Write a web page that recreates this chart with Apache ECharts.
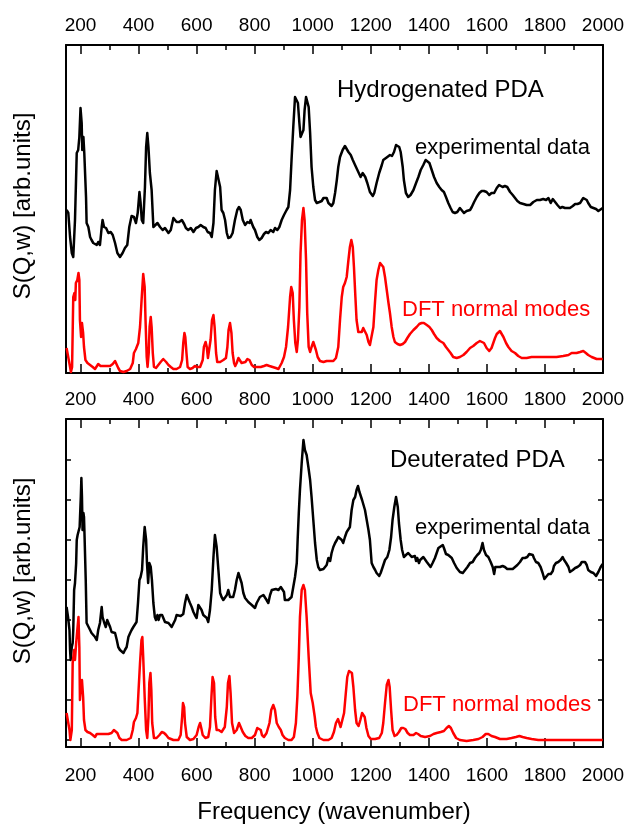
<!DOCTYPE html>
<html>
<head>
<meta charset="utf-8">
<title>PDA INS spectra</title>
<script src="https://cdn.jsdelivr.net/npm/echarts@6/dist/echarts.min.js"></script>
<style>
  html, body { margin: 0; padding: 0; background: #fff; }
  #chart { width: 628px; height: 826px; }
</style>
</head>
<body>
<div id="chart"></div>
<script>
// frequency axis (wavenumber) and tick positions
var freqMin = 150, freqMax = 2000;
var majorTicks = [200, 400, 600, 800, 1000, 1200, 1400, 1600, 1800, 2000];
var minorTicks = [300, 500, 700, 900, 1100, 1300, 1500, 1700, 1900];
var lowerYTicks = [7, 47, 87, 127, 167, 207, 247, 287];

// [wavenumber, intensity (arb. units)]
var hydExp = [
  [152,163],[158,160],[164,136],[170,120],[175,116],[181,153],[187,220],[192,223],[196,236],[200,265],[204,250],[206,223],[210,236],[213,220],[219,176],[221,150],[227,146],[233,136],[238,133],[244,130],[250,131],[256,128],[261,131],[267,128],[273,146],[276,153],[281,146],[288,145],[296,140],[304,141],[311,138],[319,130],[327,120],[336,116],[345,120],[353,125],[361,128],[368,146],[376,157],[384,156],[391,150],[397,160],[403,181],[407,170],[411,153],[416,150],[422,186],[426,226],[430,240],[434,226],[439,200],[445,183],[451,146],[457,145],[465,150],[474,146],[483,143],[491,145],[497,146],[503,140],[511,143],[520,155],[526,153],[531,151],[540,151],[549,153],[557,149],[563,145],[571,143],[580,145],[589,141],[598,145],[606,146],[614,148],[623,146],[631,145],[638,141],[646,140],[652,136],[658,150],[663,183],[669,202],[675,200],[681,186],[686,163],[692,160],[698,153],[704,140],[709,135],[717,136],[724,140],[732,153],[740,163],[746,166],[752,163],[759,153],[767,148],[775,151],[782,150],[786,153],[795,146],[801,143],[809,136],[816,133],[824,135],[832,139],[839,141],[847,140],[855,143],[864,141],[870,145],[878,143],[885,146],[893,153],[901,158],[910,163],[916,166],[922,183],[927,213],[933,246],[939,276],[945,278],[949,270],[954,250],[958,236],[963,234],[968,243],[972,263],[977,276],[981,278],[986,266],[991,240],[996,206],[1002,186],[1008,173],[1014,170],[1023,171],[1031,172],[1037,175],[1042,176],[1048,175],[1054,170],[1060,168],[1065,167],[1071,170],
  [1077,180],[1083,193],[1088,206],[1094,216],[1103,223],[1111,227],[1117,225],[1123,221],[1131,218],[1138,213],[1142,213],[1149,206],[1157,201],[1165,196],[1172,200],[1177,200],[1181,196],[1188,190],[1197,181],[1207,177],[1212,180],[1220,190],[1229,200],[1238,208],[1243,213],[1249,215],[1257,216],[1266,218],[1273,217],[1280,221],[1287,228],[1293,230],[1298,226],[1303,221],[1310,206],[1314,193],[1321,180],[1329,176],[1337,178],[1347,183],[1356,190],[1364,196],[1372,203],[1381,208],[1389,213],[1395,213],[1402,210],[1410,203],[1418,196],[1427,190],[1436,186],[1444,183],[1452,181],[1459,176],[1467,170],[1475,165],[1482,161],[1490,160],[1498,161],[1507,165],[1513,163],[1521,160],[1530,162],[1536,160],[1542,163],[1548,166],[1556,171],[1565,176],[1574,180],[1582,182],[1590,182],[1599,181],[1608,178],[1616,180],[1625,180],[1634,185],[1642,188],[1647,187],[1654,186],[1662,187],[1670,186],[1680,181],[1689,178],[1697,175],[1705,172],[1714,170],[1726,169],[1737,168],[1749,168],[1760,171],[1772,173],[1783,173],[1794,174],[1804,173],[1812,175],[1820,170],[1827,174],[1835,171],[1843,168],[1852,165],[1860,166],[1869,165],[1877,165],[1886,165],[1896,167],[1904,169],[1912,169],[1921,170],[1927,172],[1932,175],[1938,176],[1944,173],[1949,170],[1958,166],[1967,165],[1976,164],[1984,162],[1990,162],[1999,165]
];

var hydDft = [
  [152,25],[158,26],[164,6],[167,1],[171,6],[175,76],[179,80],[182,73],[184,90],[189,93],[193,100],[196,93],[198,53],[202,36],[205,50],[209,40],[212,26],[217,13],[224,10],[233,8],[242,6],[250,4],[256,6],[261,9],[269,7],[279,7],[290,7],[302,7],[311,9],[319,12],[325,10],[330,5],[336,2],[348,1],[359,2],[371,4],[380,10],[384,20],[391,24],[399,30],[405,46],[411,76],[416,99],[421,86],[424,53],[428,16],[431,6],[435,20],[438,46],[442,56],[445,46],[449,20],[453,6],[460,5],[468,8],[476,11],[485,14],[495,11],[503,8],[511,6],[520,4],[531,4],[543,6],[550,13],[554,30],[558,40],[561,36],[565,20],[569,6],[577,4],[586,5],[594,7],[602,6],[612,6],[621,13],[625,26],[631,31],[635,26],[639,15],[644,16],[648,33],[653,53],[658,58],[662,46],[667,20],[671,11],[681,11],[692,13],[701,15],[706,26],[710,43],[715,50],[720,40],[724,20],[729,10],[733,7],[738,10],[744,15],[749,16],[755,10],[761,8],[768,11],[775,14],[782,13],[790,8],[798,6],[809,6],[821,6],[832,7],[841,8],[851,7],[862,6],[873,5],[882,4],[887,6],[893,10],[901,16],[908,26],[915,46],[922,76],[926,86],[931,80],[935,53],[940,30],[945,21],[949,33],[954,66],[958,120],[963,153],[968,165],[972,153],[977,113],[981,60],[986,26],[991,21],[996,26],[1002,31],[1007,30],[1011,23],[1017,16],[1025,12],[1037,11],[1048,12],[1060,12],[1071,12],
  [1080,15],[1088,26],[1094,53],[1100,76],[1105,86],[1111,90],[1117,96],[1123,113],[1128,126],[1133,133],[1138,126],[1142,106],[1147,76],[1151,53],[1157,41],[1163,40],[1169,41],[1174,45],[1180,43],[1186,38],[1192,31],[1197,28],[1203,30],[1209,46],[1215,73],[1220,93],[1226,103],[1232,110],[1238,111],[1243,106],[1249,96],[1255,83],[1261,70],[1266,60],[1272,46],[1278,36],[1283,31],[1292,29],[1301,28],[1310,29],[1318,31],[1326,35],[1335,39],[1347,43],[1358,46],[1367,49],[1375,50],[1383,50],[1393,48],[1402,46],[1410,43],[1418,39],[1427,35],[1438,32],[1450,30],[1459,26],[1467,23],[1475,20],[1484,16],[1496,15],[1507,16],[1519,18],[1530,21],[1542,25],[1553,27],[1565,30],[1576,32],[1582,33],[1590,30],[1599,25],[1608,22],[1616,25],[1622,30],[1628,35],[1634,39],[1639,41],[1645,42],[1651,41],[1657,36],[1666,30],[1674,26],[1685,22],[1697,20],[1708,17],[1720,15],[1737,15],[1754,16],[1772,16],[1794,16],[1817,16],[1840,16],[1863,17],[1881,18],[1892,20],[1909,20],[1921,21],[1932,22],[1941,20],[1949,18],[1961,16],[1978,14],[1999,14]
];

var deuExp = [
  [152,140],[157,130],[162,117],[164,97],[166,87],[170,100],[173,104],[175,117],[178,157],[181,164],[185,184],[187,207],[190,212],[194,210],[197,220],[201,250],[203,269],[205,250],[207,217],[210,234],[212,230],[214,210],[218,167],[221,124],[227,124],[233,117],[238,114],[244,114],[250,110],[256,107],[261,117],[267,124],[273,140],[276,130],[281,125],[287,120],[292,127],[297,129],[302,120],[307,115],[313,117],[319,114],[325,107],[330,100],[336,97],[342,95],[348,94],[353,97],[359,100],[365,110],[371,114],[376,117],[382,120],[388,122],[393,125],[398,144],[403,167],[407,170],[412,177],[416,200],[421,220],[426,207],[429,184],[433,164],[437,184],[442,180],[446,167],[451,144],[456,130],[460,127],[465,132],[469,127],[474,132],[481,132],[485,130],[491,125],[497,124],[503,124],[508,122],[514,120],[520,119],[526,127],[531,132],[537,130],[545,131],[554,133],[560,144],[566,152],[571,150],[577,144],[583,140],[589,135],[594,132],[600,129],[606,142],[612,142],[617,137],[623,132],[629,134],[635,129],[640,125],[646,137],[652,157],[658,190],[663,212],[669,200],[675,177],[681,154],[686,150],[692,147],[698,145],[704,152],[709,157],[715,150],[721,149],[726,150],[732,157],[738,167],[744,174],[749,172],[755,164],[761,154],[767,149],[772,147],[778,145],[784,144],[790,142],[795,140],[801,139],[807,144],[813,142],[818,150],[824,150],[830,152],[836,150],[841,147],[847,144],[853,152],[859,157],[864,157],[873,158],[882,157],[890,160],[896,160],[901,155],[904,147],[910,149],[916,147],[922,149],[927,150],[933,160],[939,170],[945,184],[948,207],[952,234],[956,257],[962,284],[968,307],[973,297],[979,292],[985,280],[991,267],[996,250],[1002,227],[1008,204],[1014,187],[1019,180],[1025,177],[1031,177],[1037,178],[1042,177],[1048,182],[1054,189],[1060,186],[1065,194],[1071,200],
  [1077,204],[1083,207],[1088,210],[1094,209],[1100,207],[1105,204],[1111,210],[1117,215],[1123,217],[1128,220],[1134,237],[1140,247],[1146,250],[1151,257],[1156,261],[1161,255],[1165,254],[1170,247],[1174,245],[1180,237],[1186,227],[1192,217],[1197,207],[1203,184],[1209,180],[1215,177],[1220,174],[1229,171],[1234,174],[1241,180],[1249,187],[1257,190],[1264,197],[1270,210],[1275,227],[1281,240],[1287,250],[1293,240],[1297,224],[1303,207],[1308,197],[1314,190],[1321,192],[1329,194],[1335,192],[1341,190],[1347,189],[1352,191],[1356,186],[1360,189],[1366,184],[1370,187],[1375,186],[1381,190],[1387,192],[1393,185],[1398,184],[1406,180],[1413,184],[1421,189],[1427,194],[1433,199],[1438,201],[1448,202],[1452,199],[1459,193],[1467,192],[1473,190],[1479,189],[1487,184],[1496,179],[1507,175],[1517,174],[1525,177],[1533,180],[1542,184],[1551,185],[1559,189],[1567,192],[1574,194],[1579,197],[1585,204],[1590,197],[1597,192],[1605,190],[1613,185],[1620,180],[1625,173],[1629,180],[1636,180],[1645,180],[1654,181],[1662,180],[1670,178],[1680,178],[1689,178],[1697,180],[1705,182],[1714,185],[1723,189],[1731,189],[1739,190],[1746,193],[1752,195],[1758,192],[1762,189],[1769,185],[1777,184],[1785,180],[1792,174],[1798,168],[1804,170],[1812,173],[1820,173],[1827,176],[1831,181],[1838,184],[1846,185],[1854,187],[1861,190],[1866,187],[1873,184],[1881,180],[1886,175],[1896,177],[1904,179],[1912,180],[1921,182],[1927,185],[1932,187],[1938,185],[1944,182],[1949,177],[1958,175],[1967,174],[1976,171],[1984,175],[1992,180],[1999,183]
];

var deuDft = [
  [152,34],[157,32],[162,17],[165,7],[170,17],[173,84],[178,97],[181,87],[185,104],[189,117],[193,130],[196,100],[198,47],[202,64],[205,67],[209,50],[212,27],[217,17],[224,15],[233,14],[242,12],[250,10],[256,13],[265,13],[279,13],[296,13],[307,14],[315,17],[321,19],[327,14],[334,9],[342,7],[359,7],[373,9],[380,17],[384,25],[391,29],[396,34],[400,57],[405,84],[410,107],[413,110],[416,90],[421,50],[426,17],[430,9],[434,30],[437,64],[441,74],[444,57],[447,24],[453,9],[462,9],[472,12],[480,15],[488,14],[495,12],[503,9],[520,7],[537,7],[545,12],[550,30],[553,44],[557,40],[560,24],[566,10],[577,7],[589,8],[600,12],[607,20],[612,24],[616,19],[621,12],[630,9],[640,10],[646,20],[651,50],[655,70],[660,64],[664,30],[669,17],[676,17],[686,15],[697,20],[704,40],[708,64],[713,71],[717,54],[722,24],[729,14],[738,17],[746,24],[752,22],[759,15],[768,11],[778,9],[790,9],[801,12],[809,19],[815,20],[821,17],[825,12],[832,10],[841,14],[851,24],[857,37],[864,42],[870,37],[876,24],[883,20],[890,17],[896,12],[904,9],[916,7],[927,7],[935,10],[942,24],[947,50],[952,90],[956,130],[962,157],[968,162],[973,157],[979,130],[986,90],[993,54],[1000,44],[1007,30],[1011,20],[1016,14],[1023,9],[1037,7],[1054,7],[1065,9],[1073,15],[1080,24],[1087,28],
  [1096,20],[1102,22],[1108,34],[1114,54],[1119,70],[1125,76],[1131,77],[1135,74],[1140,60],[1146,37],[1151,24],[1158,21],[1164,27],[1170,34],[1174,36],[1179,30],[1185,19],[1192,11],[1200,8],[1215,8],[1229,9],[1238,14],[1243,24],[1249,44],[1255,62],[1261,67],[1265,60],[1270,37],[1275,17],[1282,11],[1289,12],[1297,15],[1305,19],[1312,19],[1319,18],[1327,14],[1335,12],[1347,12],[1356,14],[1363,13],[1372,11],[1387,10],[1404,11],[1416,13],[1427,14],[1441,15],[1452,16],[1461,19],[1469,21],[1476,19],[1484,14],[1494,9],[1507,7],[1530,6],[1553,7],[1571,8],[1585,10],[1596,13],[1605,13],[1616,11],[1628,10],[1645,8],[1668,8],[1685,9],[1700,10],[1712,11],[1723,10],[1737,9],[1754,8],[1777,7],[1817,7],[1886,7],[1955,7],[1999,7]
];

var FONT = '"Liberation Sans", Arial, sans-serif';

function freqAxis(grid, pos, ticks, len, labelMargin, showLine) {
    return {
        type: 'value',
        gridIndex: grid,
        position: pos,
        min: freqMin,
        max: freqMax,
        axisLine: { show: showLine, onZero: false, lineStyle: { color: '#000', width: 2 } },
        axisTick: { show: true, inside: true, length: len, customValues: ticks,
                    lineStyle: { color: '#000', width: 1.5 } },
        axisLabel: labelMargin == null ? { show: false } : {
            show: true, customValues: ticks, margin: labelMargin,
            color: '#000', fontSize: 19, fontFamily: FONT,
            formatter: function (v) { return String(v); }
        },
        splitLine: { show: false }
    };
}

function intensityAxis(grid, pos, ticks) {
    return {
        type: 'value',
        gridIndex: grid,
        position: pos,
        min: 0,
        max: 328,
        axisLine: { show: true, onZero: false, lineStyle: { color: '#000', width: 2 } },
        axisTick: ticks ? { show: true, inside: true, length: 5, customValues: ticks,
                            lineStyle: { color: '#000', width: 1.5 } } : { show: false },
        axisLabel: { show: false },
        splitLine: { show: false }
    };
}

function label(text, x, y, size, color, extra) {
    var el = {
        type: 'text', x: x, y: y,
        style: {
            text: text, fill: color || '#000',
            font: size + 'px ' + FONT,
            align: 'left', textAlign: 'left',
            verticalAlign: 'middle', textVerticalAlign: 'middle'
        }
    };
    if (extra) {
        for (var k in extra) { el[k] = extra[k]; }
        el.style.align = el.style.textAlign = 'center';
    }
    return el;
}

function lineSeries(name, data, xi, yi, color) {
    return {
        name: name, type: 'line', data: data,
        xAxisIndex: xi, yAxisIndex: yi,
        showSymbol: false, symbol: 'none',
        lineStyle: { color: color, width: 2.5, join: 'round' },
        clip: true
    };
}

var chart = echarts.init(document.getElementById('chart'), null, { renderer: 'canvas' });

chart.setOption({
    animation: false,
    backgroundColor: '#fff',
    grid: [
        { left: 66, right: 25, top: 45, height: 328 },
        { left: 66, right: 25, top: 419, height: 328 }
    ],
    xAxis: [
        freqAxis(0, 'bottom', majorTicks, 9, 17, true),
        freqAxis(0, 'bottom', minorTicks, 5, null, false),
        freqAxis(0, 'top', majorTicks, 9, 10, true),
        freqAxis(0, 'top', minorTicks, 5, null, false),
        freqAxis(1, 'bottom', majorTicks, 9, 19, true),
        freqAxis(1, 'bottom', minorTicks, 5, null, false),
        freqAxis(1, 'top', majorTicks, 9, null, true),
        freqAxis(1, 'top', minorTicks, 5, null, false)
    ],
    yAxis: [
        intensityAxis(0, 'left', null),
        intensityAxis(0, 'right', null),
        intensityAxis(1, 'left', lowerYTicks),
        intensityAxis(1, 'right', lowerYTicks)
    ],
    series: [
        lineSeries('Hydrogenated experimental', hydExp, 0, 0, '#000'),
        lineSeries('Hydrogenated DFT', hydDft, 0, 0, '#ff0000'),
        lineSeries('Deuterated experimental', deuExp, 4, 2, '#000'),
        lineSeries('Deuterated DFT', deuDft, 4, 2, '#ff0000')
    ],
    graphic: [
        label('Hydrogenated PDA', 337, 90, 24),
        label('experimental data', 415, 148, 22),
        label('DFT normal modes', 402, 310, 22, '#ff0000'),
        label('Deuterated PDA', 390, 460, 24),
        label('experimental data', 415, 528, 22),
        label('DFT normal modes', 403, 705, 22, '#ff0000'),
        label('S(Q,w) [arb.units]', 23, 206, 24, '#000', { rotation: Math.PI / 2 }),
        label('S(Q,w) [arb.units]', 23, 571, 24, '#000', { rotation: Math.PI / 2 }),
        label('Frequency (wavenumber)', 334, 812, 24, '#000', { rotation: 0 })
    ]
});
</script>
</body>
</html>
